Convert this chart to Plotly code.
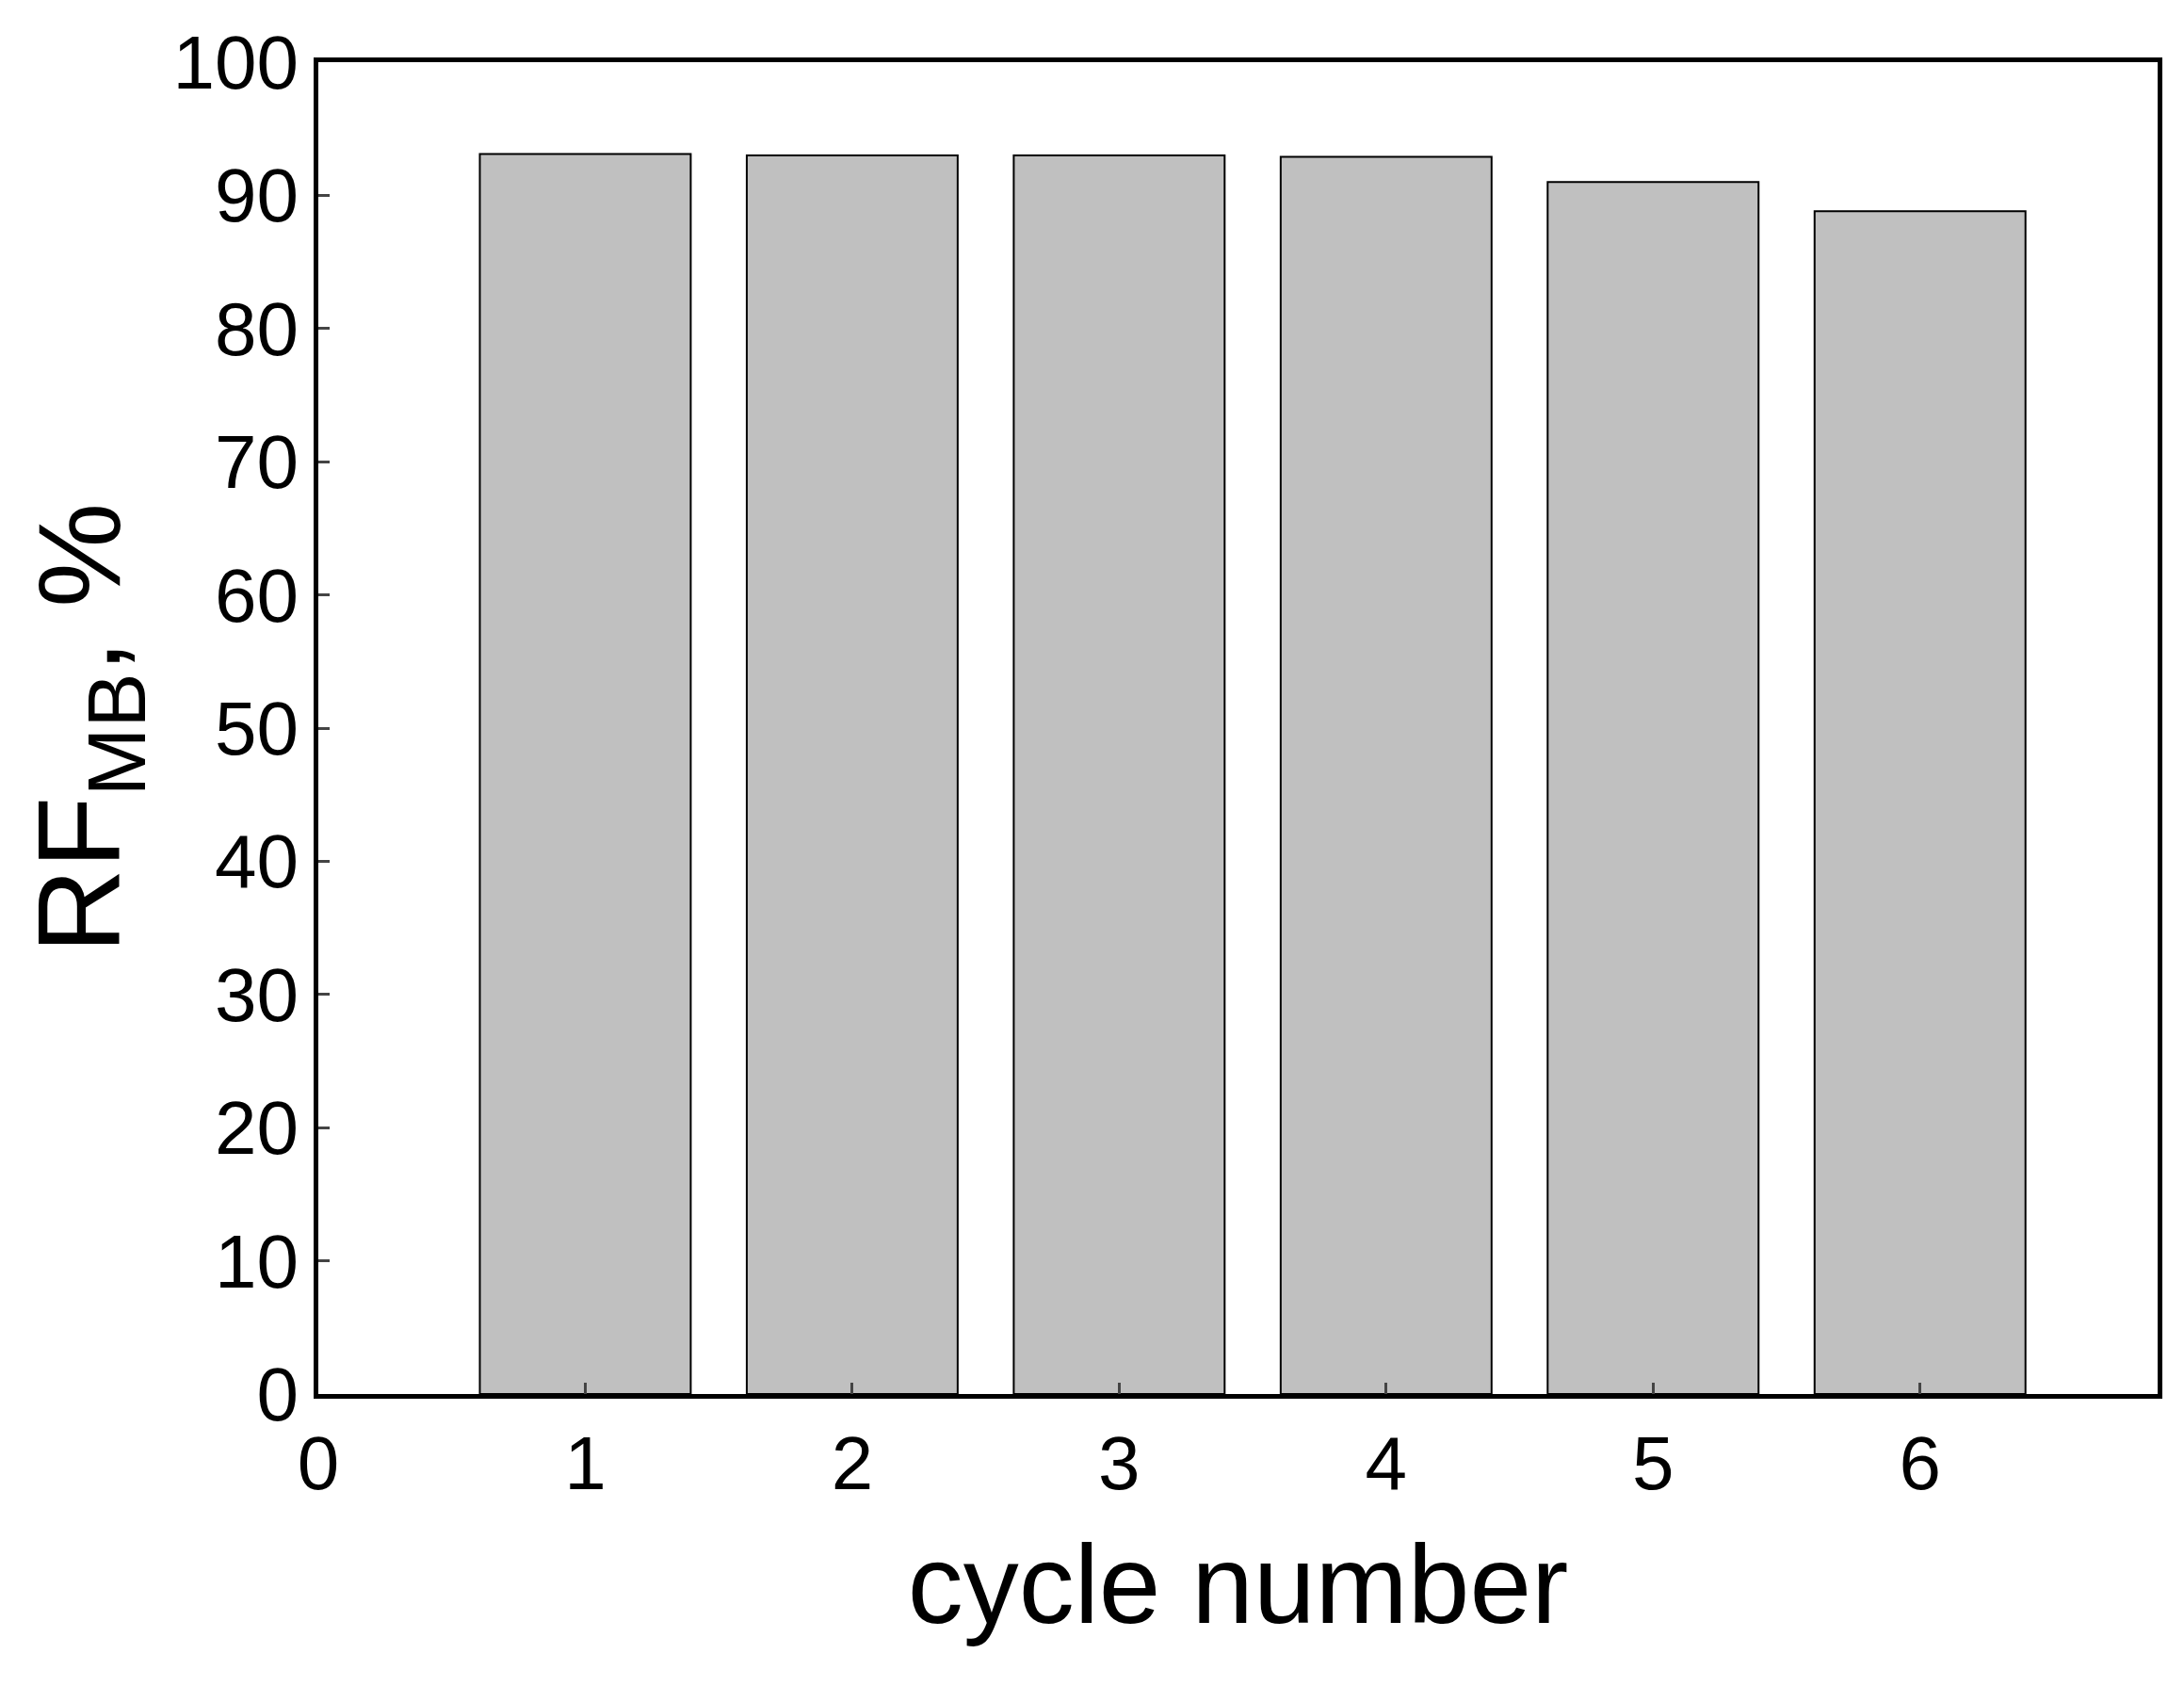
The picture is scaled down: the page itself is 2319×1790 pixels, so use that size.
import plotly.graph_objects as go

cycles = [1, 2, 3, 4, 5, 6]
rf_mb = [93.1, 93.0, 93.0, 92.9, 91.0, 88.8]
x_ticks = [0, 1, 2, 3, 4, 5, 6]
y_ticks = [0, 10, 20, 30, 40, 50, 60, 70, 80, 90, 100]

fig = go.Figure(go.Bar(x=cycles, y=rf_mb, width=0.79,
                       marker=dict(color="#c0c0c0", line=dict(color="black", width=2))))
font = dict(family="Liberation Sans, Arial", color="black")
fig.update_layout(
    width=2319, height=1790, plot_bgcolor="white", paper_bgcolor="white",
    margin=dict(l=330, r=36, t=58, b=318), showlegend=False,
    font=font,
)
fig.update_xaxes(range=[0, 6.89], tickvals=x_ticks, ticks="inside", ticklen=12, tickwidth=3,
                 showline=True, linewidth=5, linecolor="black", mirror=True, showgrid=False,
                 tickfont=dict(size=80, **font),
                 title=dict(text="cycle number", font=dict(size=118, **font), standoff=45))
fig.update_yaxes(range=[0, 100], tickvals=y_ticks, ticks="inside", ticklen=12, tickwidth=3,
                 showline=True, linewidth=5, linecolor="black", mirror=True, showgrid=False,
                 zeroline=False, tickfont=dict(size=80, **font),
                 title=dict(text="RF<sub>MB</sub>, %", font=dict(size=125, **font), standoff=15))
fig.write_html("out.html")
